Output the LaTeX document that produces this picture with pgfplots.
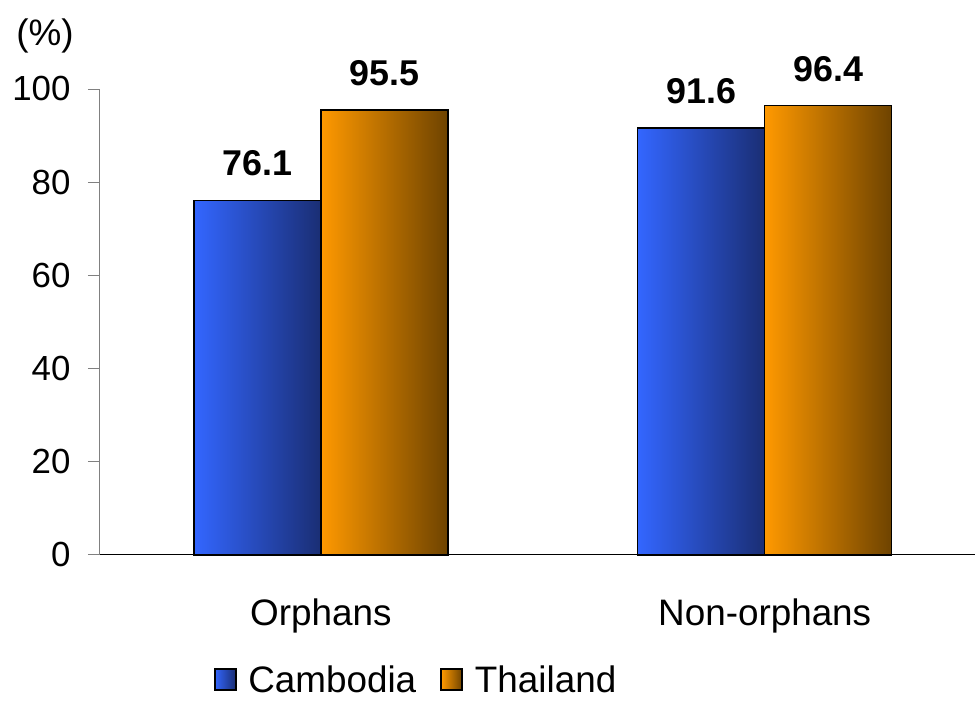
\documentclass[border=0pt]{standalone}
\usepackage{fontspec}
\setmainfont{Liberation Sans}
\usepackage{pgfplots}
\pgfplotsset{compat=1.18}

\definecolor{blueL}{HTML}{3366FF}
\definecolor{blueR}{HTML}{1A2E74}
\definecolor{orgL}{HTML}{FF9900}
\definecolor{orgR}{HTML}{6E4300}

\newcommand{\numfont}{\fontsize{35}{42}\selectfont}
\newcommand{\txtfont}{\fontsize{37}{44}\selectfont}

% one bar per \addplot so that each bar gets its own gradient
\pgfplotsset{
  cambodia/.style={draw=black, line width=1.5bp, left color=blueL, right color=blueR, bar shift=-63.5bp},
  thailand/.style={draw=black, line width=1.5bp, left color=orgL, right color=orgR, bar shift=63.5bp},
}

\begin{document}
\begin{tikzpicture}
  \begin{axis}[
    scale only axis,
    width=876bp, height=466bp,
    ybar=0pt, bar width=127bp,
    xmin=-0.5, xmax=1.473,
    ymin=0, ymax=100,
    axis lines*=left,
    axis line style={black, line width=0.8bp},
    y axis line style={gray},
    tick align=outside,
    major tick length=11bp,
    tick style={gray, line width=0.8bp},
    ytick={0,20,40,60,80,100},
    xtick={0,1},
    xticklabels={Orphans,Non-orphans},
    xtick style={draw=none},
    extra x ticks={-0.5,0.5},
    extra x tick labels={},
    extra x tick style={tick style={gray, line width=0.8bp}},
    /pgf/number format/assume math mode=true,
    yticklabel style={font=\numfont, xshift=-14bp},
    xticklabel style={font=\txtfont, yshift=-30bp},
    nodes near coords={\pgfmathprintnumber[fixed,fixed zerofill,precision=1]{\pgfplotspointmeta}},
    nodes near coords style={font=\bfseries\fontsize{36}{43}\selectfont, yshift=20bp},
    legend style={draw=none, at={(0.362,-0.268)}, anchor=center,
      font=\txtfont, legend columns=2,
      /tikz/every even column/.append style={column sep=22bp}},
    legend image code/.code={\draw[#1, line width=2bp] (0bp,-10.5bp) rectangle (21bp,10.5bp); \path (31bp,0bp);},
    clip=false,
  ]
    \addplot[cambodia] coordinates {(0,76.1)};
    \addlegendentry{Cambodia}
    \addplot[thailand] coordinates {(0,95.5)};
    \addlegendentry{Thailand}
    \addplot[cambodia, forget plot] coordinates {(1,91.6)};
    \addplot[thailand, forget plot] coordinates {(1,96.4)};
    \node[font=\txtfont] at (rel axis cs:-0.0616,1.1137) {(\%)};
    \path (rel axis cs:-0.1130,-0.3219) rectangle (rel axis cs:1,1.1910);
  \end{axis}
\end{tikzpicture}
\end{document}
